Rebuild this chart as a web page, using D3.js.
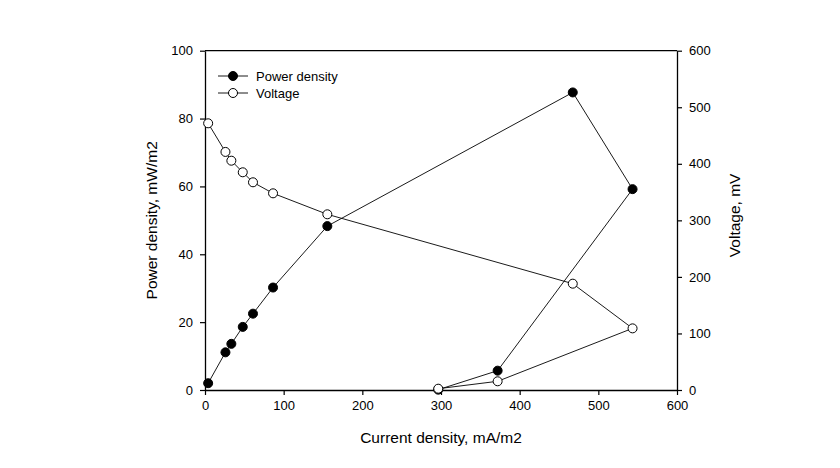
<!DOCTYPE html>
<html><head><meta charset="utf-8">
<script src="https://cdn.jsdelivr.net/npm/d3@7"></script>
<style>body{margin:0;background:#fff;} svg{display:block;font-family:"Liberation Sans",Arial,sans-serif;}</style>
</head><body>
<svg id="c" width="840" height="468"></svg>
<script>
const current = [4, 26, 33.5, 48, 61, 86.5, 155.5, 467.5, 543.5, 372, 296.5];
const power = [2.0, 11.1, 13.6, 18.6, 22.5, 30.2, 48.3, 87.7, 59.2, 5.7, 0.1];
const voltage = [471.6, 421, 405.5, 385, 367.3, 347.8, 310.7, 188, 109, 15.4, 2.3];
const xTicks = [0, 100, 200, 300, 400, 500, 600];
const yLeftTicks = [0, 20, 40, 60, 80, 100];
const yRightTicks = [0, 100, 200, 300, 400, 500, 600];
const legendLabels = ["Power density", "Voltage"];

const svg = d3.select("#c");
const L = 205, R = 677, T = 50.7, B = 390;
const x = d3.scaleLinear().domain([0, 600]).range([L, R]);
const yL = d3.scaleLinear().domain([0, 100]).range([B, T]);
const yR = d3.scaleLinear().domain([0, 600]).range([B, T]);

function styleAxis(g){
  g.selectAll("path").attr("stroke","#000").attr("stroke-width",1.3);
  g.selectAll("line").attr("stroke","#000").attr("stroke-width",1.2);
  g.selectAll("text").attr("font-size",13).attr("fill","#000").attr("font-family","Liberation Sans, Arial, sans-serif");
}
svg.append("g").attr("transform",`translate(0,${B})`)
  .call(d3.axisBottom(x).tickValues(xTicks).tickSize(5).tickSizeOuter(0).tickPadding(6)).call(styleAxis);
svg.append("g").attr("transform",`translate(${L},0)`)
  .call(d3.axisLeft(yL).tickValues(yLeftTicks).tickSize(5).tickSizeOuter(0).tickPadding(7)).call(styleAxis);
svg.append("g").attr("transform",`translate(${R},0)`)
  .call(d3.axisRight(yR).tickValues(yRightTicks).tickSize(5).tickSizeOuter(0).tickPadding(7)).call(styleAxis);
svg.append("line").attr("x1",L).attr("x2",R).attr("y1",T).attr("y2",T).attr("stroke","#000").attr("stroke-width",1.3);

const pts = current.map((c,i)=>({c, p: power[i], v: voltage[i]}));
const lineP = d3.line().x(d=>x(d.c)).y(d=>yL(d.p));
const lineV = d3.line().x(d=>x(d.c)).y(d=>yR(d.v));
svg.append("path").datum(pts).attr("d",lineP).attr("fill","none").attr("stroke","#000").attr("stroke-width",0.9);
svg.append("path").datum(pts).attr("d",lineV).attr("fill","none").attr("stroke","#000").attr("stroke-width",0.9);
svg.append("g").selectAll("circle").data(pts).join("circle")
  .attr("cx",d=>x(d.c)).attr("cy",d=>yL(d.p)).attr("r",4.5).attr("fill","#000").attr("stroke","#000");
svg.append("g").selectAll("circle").data(pts).join("circle")
  .attr("cx",d=>x(d.c)).attr("cy",d=>yR(d.v)).attr("r",4.5).attr("fill","#fff").attr("stroke","#000").attr("stroke-width",1);

// legend
const lg = svg.append("g");
legendLabels.forEach((lab,i)=>{
  const yy = 76 + i*17;
  lg.append("line").attr("x1",218).attr("x2",248).attr("y1",yy).attr("y2",yy).attr("stroke","#000").attr("stroke-width",0.9);
  lg.append("circle").attr("cx",233).attr("cy",yy).attr("r",4.5)
    .attr("fill", i===0?"#000":"#fff").attr("stroke","#000");
  lg.append("text").attr("x",256).attr("y",yy+4.5).attr("font-size",13).text(lab);
});

svg.append("text").attr("x",441).attr("y",443).attr("text-anchor","middle").attr("font-size",15.5).text("Current density, mA/m2");
svg.append("text").attr("transform",`translate(157,${(T+B)/2}) rotate(-90)`).attr("text-anchor","middle").attr("font-size",15.5).text("Power density, mW/m2");
svg.append("text").attr("transform",`translate(740,${(T+B)/2 - 5}) rotate(-90)`).attr("text-anchor","middle").attr("font-size",15.5).text("Voltage, mV");
</script>
</body></html>
